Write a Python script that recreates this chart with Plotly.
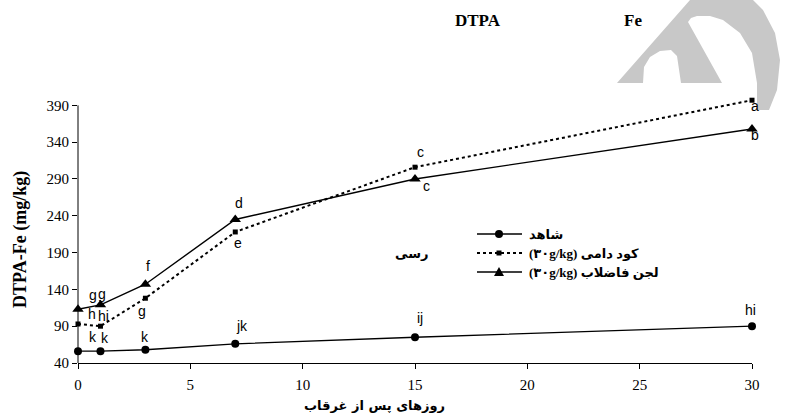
import plotly.graph_objects as go

# ---------------- data ----------------
days = [0, 1, 3, 7, 15, 30]
control = [56, 56, 58, 66, 75, 90]
manure = [93, 90, 128, 218, 306, 397]
sludge = [113, 119, 147, 235, 290, 358]

control_letters = ["k", "k", "k", "jk", "ij", "hi"]
manure_letters = ["h", "hi", "g", "e", "c", "a"]
sludge_letters = ["g", "g", "f", "d", "c", "b"]

series_names = ["شاهد", "(۳۰g/kg) کود دامی", "(۳۰g/kg) لجن فاضلاب"]
soil_label = "رسی"
x_title = "روزهای پس از غرقاب"
y_title = "DTPA-Fe (mg/kg)"
title_parts = ["DTPA", "Fe"]

x_ticks = [0, 5, 10, 15, 20, 25, 30]
y_ticks = [40, 90, 140, 190, 240, 290, 340, 390]

# ---------------- layout helpers ----------------
W, H = 786, 415
ML, MR, MT, MB = 78, 34, 98, 52
PW, PH = W - ML - MR, H - MT - MB


def px(x):
    return (x - ML) / PW


def py(y):
    return (H - MB - y) / PH


SERIF = "Liberation Serif, Times New Roman, serif"
SANS = "Liberation Sans, Arial, sans-serif"
FA = "DejaVu Sans, sans-serif"

fig = go.Figure()

fig.add_trace(go.Scatter(x=days, y=control, mode="lines+markers",
                         line=dict(color="black", width=1.3),
                         marker=dict(symbol="circle", size=8, color="black"),
                         cliponaxis=False, showlegend=False))
fig.add_trace(go.Scatter(x=days, y=manure, mode="lines+markers",
                         line=dict(color="black", width=2, dash="dot"),
                         marker=dict(symbol="square", size=5, color="black"),
                         cliponaxis=False, showlegend=False))
fig.add_trace(go.Scatter(x=days, y=sludge, mode="lines+markers",
                         line=dict(color="black", width=1.4),
                         marker=dict(symbol="triangle-up", size=10, color="black"),
                         cliponaxis=False, showlegend=False))

# letter label offsets (pixels)
control_shift = [(15, 14), (5, 13), (0, 13), (7, 18), (5, 19), (-2, 16)]
manure_shift = [(14, 10), (3, 10), (-3, -13), (3, -11), (5, 15), (3, -6)]
sludge_shift = [(15, 14), (2, 11), (3, 18), (4, 16), (11, -7), (3, -6)]

annotations = []
for vals, letters, shifts in [(control, control_letters, control_shift),
                              (manure, manure_letters, manure_shift),
                              (sludge, sludge_letters, sludge_shift)]:
    for xv, yv, t, (dx, dy) in zip(days, vals, letters, shifts):
        annotations.append(dict(x=xv, y=yv, xref="x", yref="y", text=t,
                                showarrow=False, xshift=dx, yshift=dy,
                                xanchor="center", yanchor="middle",
                                font=dict(family=SANS, size=14, color="black")))


def label(xp, yp, text, font, **kw):
    d = dict(x=px(xp), y=py(yp), xref="paper", yref="paper", text=text,
             showarrow=False, xanchor="center", yanchor="middle", font=font)
    d.update(kw)
    annotations.append(d)


# titles
label(478, 20, "<b>%s</b>" % title_parts[0], dict(family=SERIF, size=17, color="black"))
label(633, 20, "<b>%s</b>" % title_parts[1], dict(family=SERIF, size=17, color="black"))
label(20, 240, "<b>%s</b>" % y_title, dict(family=SERIF, size=18, color="black"), textangle=-90)
label(374, 405, "<b>%s</b>" % x_title, dict(family=FA, size=13, color="black"))
label(411, 253, "<b>%s</b>" % soil_label, dict(family=FA, size=13, color="black"))

# manual legend
rows = [234, 253, 272]
dashes = ["solid", "dot", "solid"]
widths = [1.3, 2, 1.4]
shapes = []
for name, ry, dsh, lw in zip(series_names, rows, dashes, widths):
    shapes.append(dict(type="line", xref="paper", yref="paper",
                       x0=px(477), x1=px(522), y0=py(ry), y1=py(ry),
                       line=dict(color="black", width=lw, dash=dsh)))
    label(527, ry, "<b>%s</b>" % name,
          dict(family=SERIF + ", " + FA, size=13, color="black"), xanchor="left")
# legend markers
shapes.append(dict(type="circle", xref="paper", yref="paper", xsizemode="pixel", ysizemode="pixel",
                   xanchor=px(499), yanchor=py(rows[0]), x0=-4, x1=4, y0=-4, y1=4,
                   fillcolor="black", line=dict(width=0)))
shapes.append(dict(type="rect", xref="paper", yref="paper", xsizemode="pixel", ysizemode="pixel",
                   xanchor=px(499), yanchor=py(rows[1]), x0=-2.5, x1=2.5, y0=-2.5, y1=2.5,
                   fillcolor="black", line=dict(width=0)))
tri = "M %f,%f L %f,%f L %f,%f Z" % (px(494), py(rows[2] + 4), px(504), py(rows[2] + 4),
                                       px(499), py(rows[2] - 5))
shapes.append(dict(type="path", xref="paper", yref="paper", path=tri,
                   fillcolor="black", line=dict(width=0)))

# y axis line (stops at 390)
shapes.append(dict(type="line", xref="paper", yref="y", x0=0, x1=0, y0=40, y1=390,
                   line=dict(color="black", width=1)))

# watermark (decorative logo in the corner)
wm_pts = [(617, 83), (643, 83), (644, 67), (650, 57), (660, 51), (671, 50), (677, 56),
          (681, 83), (722, 83), (688, 22), (691, 18), (697, 16), (710, 16), (723, 20),
          (740, 33), (752, 53), (757, 83), (757, 110), (769, 110), (777, 90), (780, 60),
          (775, 33), (763, 10), (753, 0), (690, 0)]
wm_path = "M " + " L ".join("%f,%f" % (px(a), py(b)) for a, b in wm_pts) + " Z"
shapes.append(dict(type="path", xref="paper", yref="paper", path=wm_path,
                   fillcolor="#c8c8c8", line=dict(width=0), layer="below"))

fig.update_layout(
    width=W, height=H,
    margin=dict(l=ML, r=MR, t=MT, b=MB),
    paper_bgcolor="white", plot_bgcolor="rgba(0,0,0,0)",
    showlegend=False,
    annotations=annotations,
    shapes=shapes,
    xaxis=dict(range=[0, 30], tickvals=x_ticks, ticks="outside", ticklen=5,
               tickcolor="black", showline=True, linecolor="black", linewidth=1,
               showgrid=False, zeroline=False, ticklabelstandoff=3,
               tickfont=dict(family=SERIF, size=15, color="black")),
    yaxis=dict(range=[40, 400], tickvals=y_ticks, ticks="outside", ticklen=5,
               tickcolor="black", showline=False, showgrid=False, zeroline=False,
               tickfont=dict(family=SERIF, size=15, color="black")),
)

fig.write_html("out.html", config={"displayModeBar": False},
               post_script="document.body.style.margin='0';document.body.style.overflow='hidden';")
